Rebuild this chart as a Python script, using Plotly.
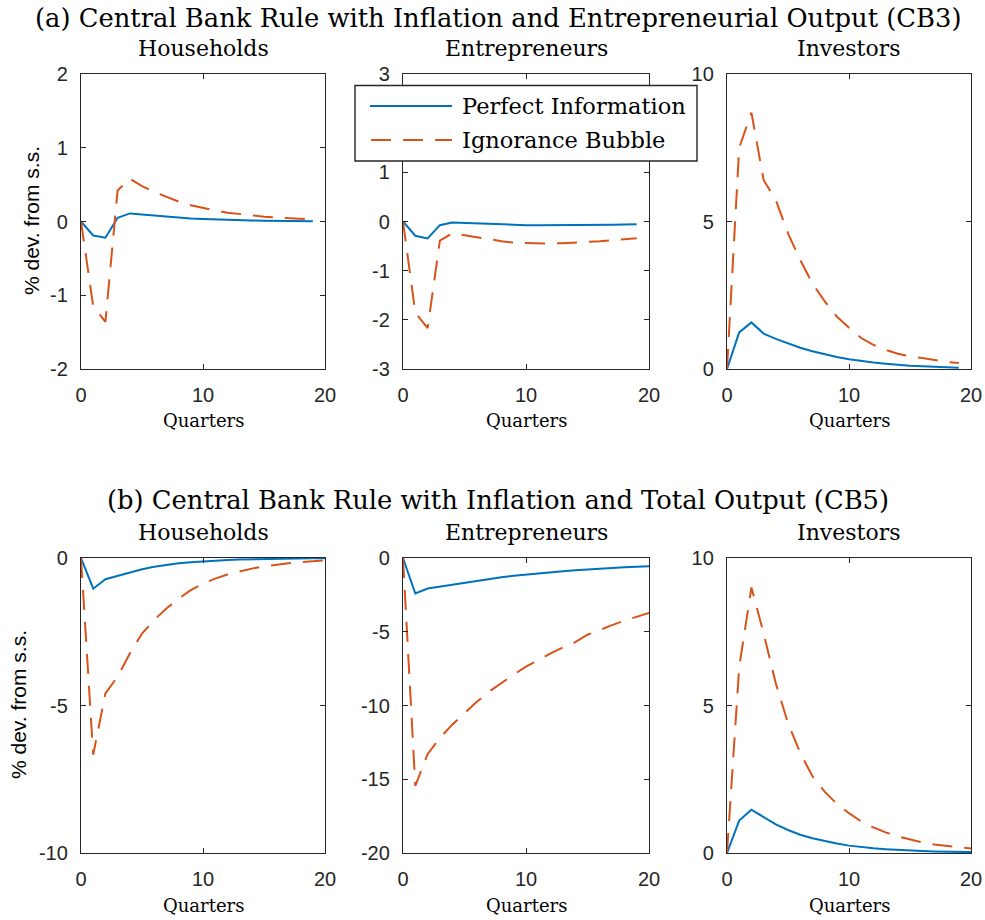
import plotly.graph_objects as go

# ---------------- data ----------------
quarters_a = list(range(20))
quarters_b = list(range(21))

series_names = ["Perfect Information", "Ignorance Bubble"]
panel_titles = ["Households", "Entrepreneurs", "Investors"]
row_titles = ["(a) Central Bank Rule with Inflation and Entrepreneurial Output (CB3)",
              "(b) Central Bank Rule with Inflation and Total Output (CB5)"]

# (a) CB3
a_hh_pi = [0, -0.19, -0.22, 0.05, 0.11, 0.095, 0.08, 0.065, 0.052, 0.042, 0.034, 0.027, 0.022, 0.018, 0.014, 0.011, 0.009, 0.007, 0.005, 0.004]
a_hh_ib = [0, -1.15, -1.36, 0.42, 0.58, 0.48, 0.40, 0.33, 0.27, 0.22, 0.18, 0.15, 0.12, 0.10, 0.08, 0.066, 0.054, 0.045, 0.037, 0.03]
a_en_pi = [0, -0.29, -0.345, -0.075, -0.02, -0.03, -0.045, -0.055, -0.065, -0.07, -0.075, -0.077, -0.078, -0.078, -0.077, -0.075, -0.072, -0.068, -0.063, -0.058]
a_en_ib = [0, -1.85, -2.17, -0.39, -0.24, -0.28, -0.33, -0.37, -0.40, -0.43, -0.44, -0.45, -0.45, -0.44, -0.43, -0.42, -0.40, -0.38, -0.36, -0.34]
a_in_pi = [0, 1.24, 1.58, 1.2, 1.02, 0.86, 0.72, 0.6, 0.5, 0.41, 0.33, 0.27, 0.22, 0.18, 0.14, 0.11, 0.09, 0.07, 0.05, 0.04]
a_in_ib = [0, 7.5, 8.69, 6.41, 5.73, 4.6, 3.7, 2.9, 2.3, 1.78, 1.4, 1.05, 0.82, 0.65, 0.52, 0.43, 0.37, 0.3, 0.24, 0.2]

# (b) CB5
b_hh_pi = [0, -1.04, -0.72, -0.6, -0.48, -0.38, -0.3, -0.23, -0.18, -0.14, -0.11, -0.085, -0.065, -0.05, -0.04, -0.03, -0.024, -0.019, -0.015, -0.012, -0.01]
b_hh_ib = [0, -6.67, -4.59, -4.02, -3.24, -2.56, -2.1, -1.71, -1.38, -1.09, -0.87, -0.7, -0.56, -0.45, -0.36, -0.28, -0.22, -0.18, -0.14, -0.11, -0.08]
b_en_pi = [0, -2.41, -2.07, -1.94, -1.8, -1.66, -1.53, -1.41, -1.3, -1.2, -1.11, -1.03, -0.96, -0.89, -0.83, -0.77, -0.72, -0.67, -0.63, -0.59, -0.56]
b_en_ib = [0, -15.45, -13.3, -12.2, -11.3, -10.5, -9.75, -9.06, -8.45, -7.9, -7.37, -6.9, -6.47, -6.07, -5.7, -5.2, -4.85, -4.55, -4.25, -3.98, -3.72]
b_in_pi = [0, 1.1, 1.47, 1.21, 0.97, 0.78, 0.62, 0.5, 0.4, 0.32, 0.25, 0.2, 0.16, 0.13, 0.1, 0.08, 0.065, 0.05, 0.04, 0.035, 0.03]
b_in_ib = [0, 6.3, 9.0, 7.45, 5.75, 4.4, 3.4, 2.6, 2.08, 1.67, 1.35, 1.07, 0.87, 0.7, 0.56, 0.45, 0.36, 0.29, 0.24, 0.19, 0.15]

x_ticks = [0, 10, 20]
y_ticks = [[-2, -1, 0, 1, 2], [-3, -2, -1, 0, 1, 2, 3], [0, 5, 10],
           [-10, -5, 0], [-20, -15, -10, -5, 0], [0, 5, 10]]
y_ranges = [[-2, 2], [-3, 3], [0, 10], [-10, 0], [-20, 0], [0, 10]]

panels = [
    (quarters_a, a_hh_pi, a_hh_ib), (quarters_a, a_en_pi, a_en_ib), (quarters_a, a_in_pi, a_in_ib),
    (quarters_b, b_hh_pi, b_hh_ib), (quarters_b, b_en_pi, b_en_ib), (quarters_b, b_in_pi, b_in_ib),
]

# ---------------- style ----------------
W, H = 985, 920
BLUE = "#0072BD"
ORANGE = "#D95319"
AX = "#262626"
DASH = "20px,12px"
SERIF = "DejaVu Serif"
SANS = "Liberation Sans"

col_px = [(81, 325), (403, 649), (727, 971)]
row_px = [(74, 369), (558, 853)]

def px(x):
    return x / W

def py(y):
    return 1 - y / H

fig = go.Figure()
layout = dict(template="none", width=W, height=H, margin=dict(l=0, r=0, t=0, b=0, pad=0),
              paper_bgcolor="white", plot_bgcolor="white", showlegend=False)

for i, (xs, pi, ib) in enumerate(panels):
    r, c = divmod(i, 3)
    n = i + 1
    xa = "x" if n == 1 else f"x{n}"
    ya = "y" if n == 1 else f"y{n}"
    fig.add_trace(go.Scatter(x=xs, y=pi, mode="lines", name=series_names[0],
                             line=dict(color=BLUE, width=2), xaxis=xa, yaxis=ya))
    fig.add_trace(go.Scatter(x=xs, y=ib, mode="lines", name=series_names[1],
                             line=dict(color=ORANGE, width=2, dash=DASH), xaxis=xa, yaxis=ya))
    axcommon = dict(showline=True, linecolor=AX, linewidth=1.4, mirror="ticks",
                    ticks="inside", ticklen=5, tickwidth=1.2, tickcolor=AX,
                    showgrid=False, zeroline=False, automargin=False,
                    tickfont=dict(family=SANS, size=20, color=AX))
    layout["xaxis" if n == 1 else f"xaxis{n}"] = dict(
        axcommon, domain=[px(col_px[c][0]), px(col_px[c][1])], range=[0, 20],
        tickvals=x_ticks, ticktext=[str(v) for v in x_ticks],
        anchor=ya, ticklabelstandoff=8)
    layout["yaxis" if n == 1 else f"yaxis{n}"] = dict(
        axcommon, domain=[py(row_px[r][1]), py(row_px[r][0])], range=y_ranges[i],
        tickvals=y_ticks[i], ticktext=[str(v) for v in y_ticks[i]],
        anchor=xa, ticklabelstandoff=8)

fig.update_layout(**layout)

ann = []
def text(x, y, s, size, family=SERIF, angle=0):
    ann.append(dict(x=px(x), y=py(y), xref="paper", yref="paper", text=s, showarrow=False,
                    xanchor="center", yanchor="middle", textangle=angle,
                    font=dict(family=family, size=size, color="black")))

title_y = [18, 500]
sub_y = [48, 532]
q_y = [421, 905]
ylab = [(31, 221), (18, 705)]
for r in range(2):
    text(498, title_y[r], row_titles[r], 25.8)
    for c in range(3):
        cx = (col_px[c][0] + col_px[c][1]) / 2
        text(cx, sub_y[r], panel_titles[c], 22)
        text(cx, q_y[r], "Quarters", 18)
    text(ylab[r][0], ylab[r][1], "% dev. from s.s.", 21, family=SANS, angle=-90)

# legend (drawn over the middle top panel)
shapes = [
    dict(type="rect", xref="paper", yref="paper", x0=px(355), x1=px(697), y0=py(161), y1=py(85.5),
         line=dict(color=AX, width=1.4), fillcolor="white", layer="above"),
    dict(type="line", xref="paper", yref="paper", x0=px(370), x1=px(452), y0=py(106), y1=py(106),
         line=dict(color=BLUE, width=2), layer="above"),
    dict(type="line", xref="paper", yref="paper", x0=px(371), x1=px(452), y0=py(140), y1=py(140),
         line=dict(color=ORANGE, width=2, dash=DASH), layer="above"),
]
for k, yy in enumerate([106, 140]):
    ann.append(dict(x=px(460), y=py(yy), xref="paper", yref="paper", text=series_names[k],
                    showarrow=False, xanchor="left", yanchor="middle",
                    font=dict(family=SERIF, size=22.5, color="black")))

fig.update_layout(annotations=ann, shapes=shapes)
fig.write_html("out.html")
